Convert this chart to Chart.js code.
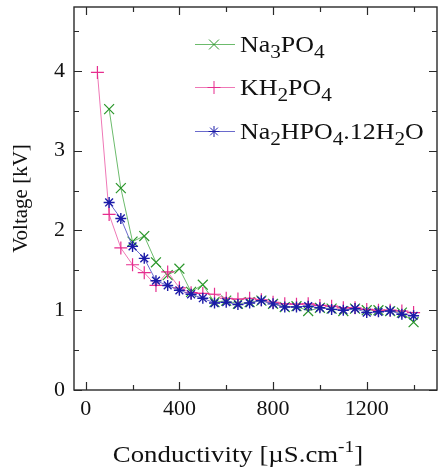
<!DOCTYPE html>
<html>
<head>
<meta charset="utf-8">
<title>Voltage vs conductivity</title>
<script src="https://cdn.jsdelivr.net/npm/chart.js@4/dist/chart.umd.min.js"></script>
<style>
  html, body { margin: 0; padding: 0; background: #fff; }
</style>
</head>
<body>
<canvas id="voltageChart" width="438" height="471"></canvas>
<script>
// conductivity (µS/cm) and breakdown voltage (kV) for each salt
const condNa3PO4 = [100, 150, 200, 250, 300, 350, 400, 450, 500, 550, 600, 650, 700, 750,
  800, 850, 900, 950, 1000, 1050, 1100, 1150, 1200, 1250, 1300, 1350, 1400];
const voltNa3PO4 = [3.52, 2.53, 1.86, 1.93, 1.60, 1.44, 1.52, 1.23, 1.32, 1.10, 1.12, 1.08, 1.10, 1.12,
  1.08, 1.04, 1.05, 0.99, 1.03, 1.02, 0.99, 1.02, 1.00, 1.00, 0.99, 0.97, 0.85];

const condKH2PO4 = [50, 100, 150, 200, 250, 300, 350, 400, 450, 500, 550, 600, 650, 700, 750,
  800, 850, 900, 950, 1000, 1050, 1100, 1150, 1200, 1250, 1300, 1350, 1400];
const voltKH2PO4 = [3.98, 2.20, 1.78, 1.57, 1.47, 1.31, 1.48, 1.28, 1.22, 1.21, 1.20, 1.15, 1.14, 1.15, 1.13,
  1.10, 1.08, 1.075, 1.08, 1.06, 1.05, 1.03, 1.03, 1.01, 1.00, 1.00, 0.99, 0.97];

const condNa2HPO4 = [100, 150, 200, 250, 300, 350, 400, 450, 500, 550, 600, 650, 700, 750,
  800, 850, 900, 950, 1000, 1050, 1100, 1150, 1200, 1250, 1300, 1350, 1400];
const voltNa2HPO4 = [2.35, 2.15, 1.80, 1.65, 1.37, 1.31, 1.25, 1.20, 1.15, 1.09, 1.10, 1.07, 1.09, 1.12,
  1.08, 1.04, 1.04, 1.05, 1.03, 1.01, 1.00, 1.02, 0.97, 0.98, 0.99, 0.95, 0.93];

// "_" puts the next character in subscript
const seriesNames = ['Na_3PO_4', 'KH_2PO_4', 'Na_2HPO_4.12H_2O'];

const xMajorTicks = [0, 400, 800, 1200];
const xMinorTicks = [200, 600, 1000, 1400];
const yMajorTicks = [0, 1, 2, 3, 4];
const yMinorTicks = [0.5, 1.5, 2.5, 3.5, 4.5];

const FONT = "'Liberation Serif', 'Times New Roman', serif";

function toPoints(xs, ys) {
    return xs.map((x, i) => ({ x: x, y: ys[i] }));
}

function plainName(name) {
    return name.replace(/_/g, '');
}

// draws "Na_3PO_4"-style text, returns the end x
function drawChem(ctx, text, x, y, size) {
    const subSize = size * 0.82;
    let cx = x;
    for (let i = 0; i < text.length; i++) {
        if (text[i] === '_' && i + 1 < text.length) {
            ctx.font = `${subSize}px ${FONT}`;
            ctx.fillText(text[i + 1], cx, y + size * 0.26);
            cx += ctx.measureText(text[i + 1]).width;
            i++;
        } else {
            ctx.font = `${size}px ${FONT}`;
            ctx.fillText(text[i], cx, y);
            cx += ctx.measureText(text[i]).width;
        }
    }
    return cx;
}

// no extra room for edge tick labels, the plot box is sized by hand
function noScalePadding(s) {
    s.paddingTop = 0;
    s.paddingBottom = 0;
    s.paddingLeft = 0;
    s.paddingRight = 0;
}

// box around the plot with inward major/minor ticks on all four sides
const frameTicks = {
    id: 'frameTicks',
    beforeDatasetsDraw(chart) {
        const { ctx, chartArea: a, scales: { x, y } } = chart;
        ctx.save();
        ctx.strokeStyle = '#2a2a2a';
        ctx.lineWidth = 1.4;
        ctx.strokeRect(a.left, a.top, a.right - a.left, a.bottom - a.top);

        ctx.lineWidth = 1.2;
        ctx.beginPath();
        const tickX = (v, len) => {
            const px = Math.round(x.getPixelForValue(v)) + 0.5;
            ctx.moveTo(px, a.bottom); ctx.lineTo(px, a.bottom - len);
            ctx.moveTo(px, a.top); ctx.lineTo(px, a.top + len);
        };
        const tickY = (v, len) => {
            const py = Math.round(y.getPixelForValue(v)) + 0.5;
            ctx.moveTo(a.left, py); ctx.lineTo(a.left + len, py);
            ctx.moveTo(a.right, py); ctx.lineTo(a.right - len, py);
        };
        xMajorTicks.forEach(v => tickX(v, 8));
        xMinorTicks.forEach(v => tickX(v, 5));
        yMajorTicks.forEach(v => tickY(v, 8));
        yMinorTicks.forEach(v => tickY(v, 5));
        ctx.stroke();
        ctx.restore();
    }
};

// in-plot legend and the x-axis title (needs subscript/superscript)
const chemLegend = {
    id: 'chemLegend',
    afterDraw(chart) {
        const { ctx } = chart;
        const rowsY = [44, 87, 131];
        ctx.save();
        chart.data.datasets.forEach((ds, i) => {
            const yy = rowsY[i];
            ctx.strokeStyle = ds.borderColor;
            ctx.lineWidth = 1;
            ctx.beginPath();
            ctx.moveTo(195, yy + 0.5);
            ctx.lineTo(235, yy + 0.5);
            ctx.stroke();
            ctx.strokeStyle = ds.pointBorderColor;
            Chart.helpers.drawPoint(ctx, {
                pointStyle: ds.pointStyle,
                radius: ds.pointRadius,
                borderWidth: ds.pointBorderWidth,
                rotation: 0
            }, 214, yy + 0.5);

            ctx.save();
            ctx.translate(240, yy + 8);
            ctx.scale(1.08, 1);
            ctx.fillStyle = '#111';
            ctx.textBaseline = 'alphabetic';
            drawChem(ctx, seriesNames[i], 0, 0, 24);
            ctx.restore();
        });

        // Conductivity [µS.cm^-1]
        const main = 'Conductivity [µS.cm';
        const stretch = 1.14;
        ctx.font = `23.5px ${FONT}`;
        const wMain = ctx.measureText(main).width;
        const wEnd = ctx.measureText(']').width;
        ctx.font = `17px ${FONT}`;
        const wSup = ctx.measureText('-1').width;
        const total = (wMain + wSup + wEnd) * stretch;

        ctx.save();
        ctx.translate(238 - total / 2, 462);
        ctx.scale(stretch, 1);
        ctx.fillStyle = '#111';
        ctx.textBaseline = 'alphabetic';
        ctx.font = `23.5px ${FONT}`;
        ctx.fillText(main, 0, 0);
        ctx.font = `17px ${FONT}`;
        ctx.fillText('-1', wMain, -10);
        ctx.font = `23.5px ${FONT}`;
        ctx.fillText(']', wMain + wSup, 0);
        ctx.restore();

        ctx.restore();
    }
};

function initVoltageChart(canvasId) {
    const ctx = document.getElementById(canvasId).getContext('2d');
    return new Chart(ctx, {
        type: 'line',
        data: {
            datasets: [{
                label: plainName(seriesNames[0]),
                data: toPoints(condNa3PO4, voltNa3PO4),
                borderColor: '#6cbb6c',
                pointBorderColor: '#2a962a',
                pointStyle: 'crossRot',
                pointRadius: 7,
                pointBorderWidth: 1.2,
                order: 2
            }, {
                label: plainName(seriesNames[1]),
                data: toPoints(condKH2PO4, voltKH2PO4),
                borderColor: '#ef78b6',
                pointBorderColor: '#e62d8e',
                pointStyle: 'cross',
                pointRadius: 6.5,
                pointBorderWidth: 1.2,
                order: 1
            }, {
                label: plainName(seriesNames[2]),
                data: toPoints(condNa2HPO4, voltNa2HPO4),
                borderColor: '#6a6acc',
                pointBorderColor: '#1b1ba8',
                pointStyle: 'star',
                pointRadius: 5.5,
                pointBorderWidth: 1.4,
                order: 0
            }].map(ds => Object.assign({
                borderWidth: 1,
                fill: false,
                tension: 0,
                pointBackgroundColor: 'transparent',
                pointHoverRadius: 6
            }, ds))
        },
        options: {
            responsive: false,
            animation: false,
            events: [],
            layout: {
                autoPadding: false, // point radius would otherwise shrink the plot box
                padding: { top: 7, right: 1, left: 0, bottom: 0 }
            },
            plugins: {
                legend: { display: false },
                tooltip: { enabled: false }
            },
            scales: {
                x: {
                    type: 'linear',
                    min: -50,
                    max: 1500,
                    afterBuildTicks: s => { s.ticks = xMajorTicks.map(v => ({ value: v })); },
                    afterFit: s => { s.height = 81; noScalePadding(s); },
                    grid: { display: false, drawTicks: false },
                    border: { display: false },
                    ticks: {
                        color: '#111',
                        padding: 6,
                        maxRotation: 0,
                        callback: v => String(v),
                        font: { family: FONT, size: 22 }
                    }
                },
                y: {
                    type: 'linear',
                    min: 0,
                    max: 4.8,
                    afterBuildTicks: s => { s.ticks = yMajorTicks.map(v => ({ value: v })); },
                    afterFit: s => { s.width = 74; noScalePadding(s); },
                    grid: { display: false, drawTicks: false },
                    border: { display: false },
                    ticks: {
                        color: '#111',
                        padding: 9,
                        callback: v => String(v),
                        font: { family: FONT, size: 22 }
                    },
                    title: {
                        display: true,
                        text: 'Voltage [kV]',
                        color: '#111',
                        padding: { top: 9, bottom: 0 },
                        font: { family: FONT, size: 21 }
                    }
                }
            }
        },
        plugins: [frameTicks, chemLegend]
    });
}

initVoltageChart('voltageChart');
</script>
</body>
</html>
